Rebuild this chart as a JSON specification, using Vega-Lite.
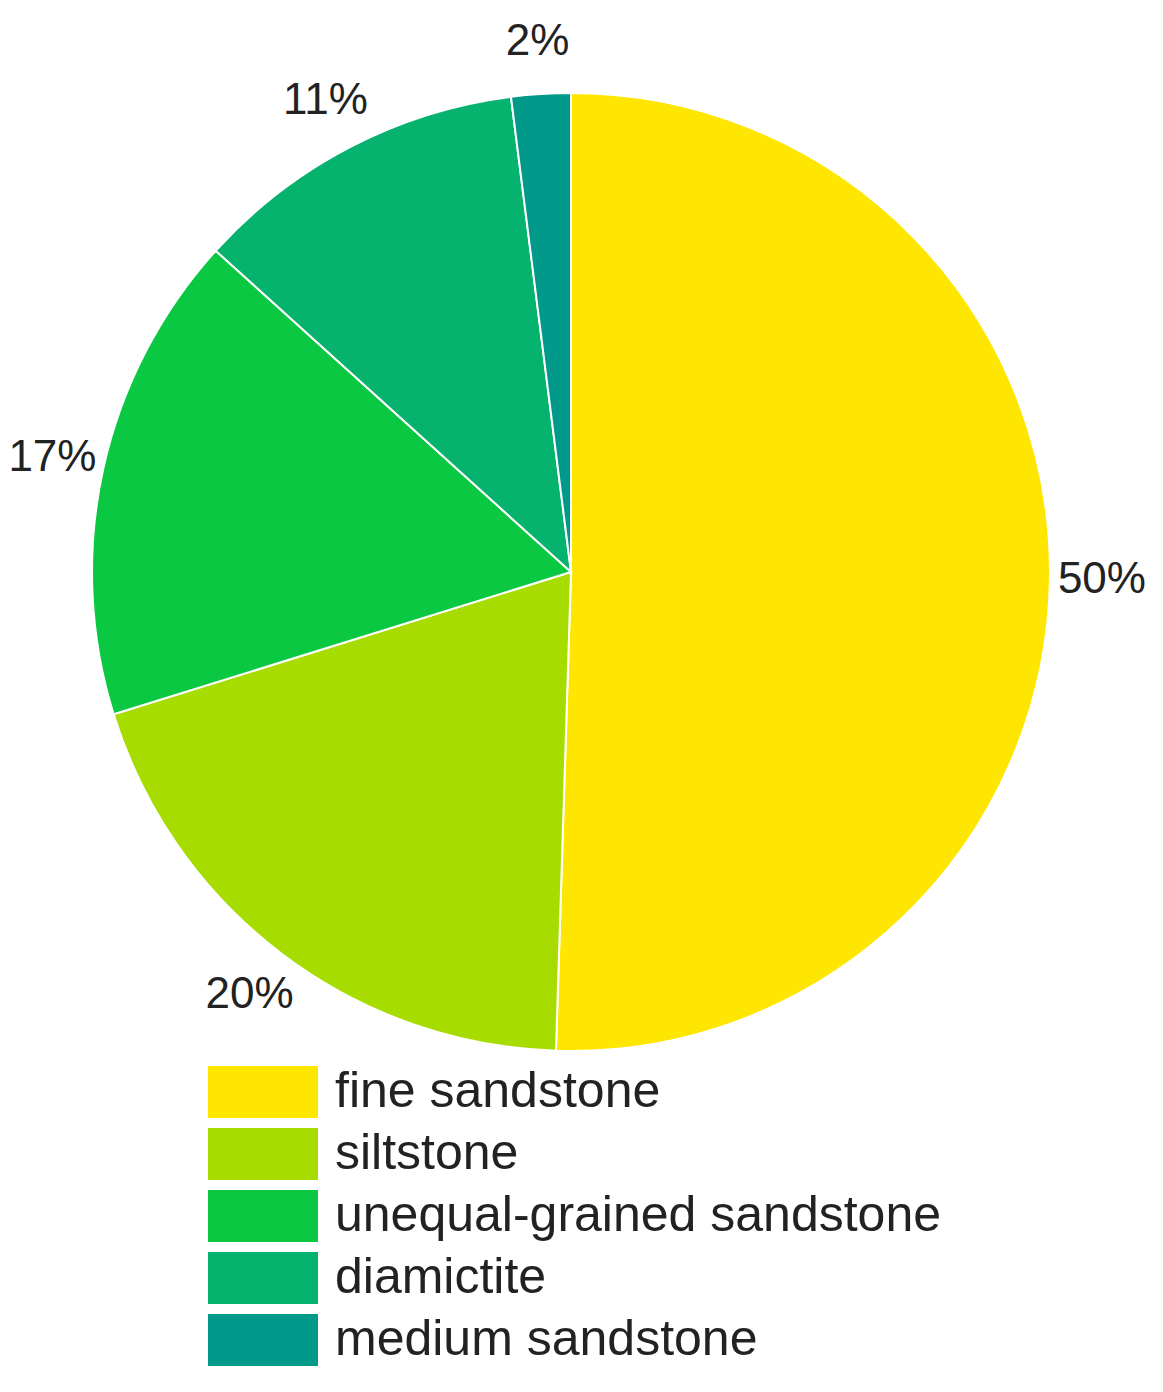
{
  "$schema": "https://vega.github.io/schema/vega-lite/v6.json",
  "width": 1142,
  "height": 1144,
  "padding": 0,
  "background": "white",
  "data": {
    "values": [
      {"ord": 1, "rock": "fine sandstone", "value": 50.5, "label": "50%"},
      {"ord": 2, "rock": "siltstone", "value": 19.7, "label": "20%"},
      {"ord": 3, "rock": "unequal-grained sandstone", "value": 16.5, "label": "17%"},
      {"ord": 4, "rock": "diamictite", "value": 11.3, "label": "11%"},
      {"ord": 5, "rock": "medium sandstone", "value": 2.0, "label": "2%"}
    ]
  },
  "encoding": {
    "theta": {"field": "value", "type": "quantitative", "stack": true},
    "order": {"field": "ord", "type": "quantitative"}
  },
  "layer": [
    {
      "mark": {"type": "arc", "outerRadius": 479, "stroke": "#ffffff", "strokeWidth": 2},
      "encoding": {
        "color": {
          "field": "rock",
          "type": "nominal",
          "scale": {
            "domain": ["fine sandstone", "siltstone", "unequal-grained sandstone", "diamictite", "medium sandstone"],
            "range": ["#FFE600", "#A6DC00", "#0BC842", "#05B26E", "#00998A"]
          },
          "legend": {
            "orient": "none",
            "legendX": 237,
            "legendY": 1066,
            "title": null,
            "symbolType": "M-2.115,-1H2.115V1H-2.115Z",
            "symbolSize": 2704,
            "symbolStrokeWidth": 0,
            "labelFont": "Liberation Sans",
            "labelFontSize": 50,
            "labelColor": "#222222",
            "labelOffset": 46,
            "labelLimit": 0,
            "rowPadding": 10,
            "padding": 0
          }
        }
      }
    },
    {
      "mark": {"type": "text", "radius": 531, "fontSize": 44, "font": "Liberation Sans", "color": "#222222", "align": "center", "baseline": "middle"},
      "encoding": {
        "text": {"field": "label", "type": "nominal"}
      }
    }
  ],
  "config": {"view": {"stroke": null}}
}
